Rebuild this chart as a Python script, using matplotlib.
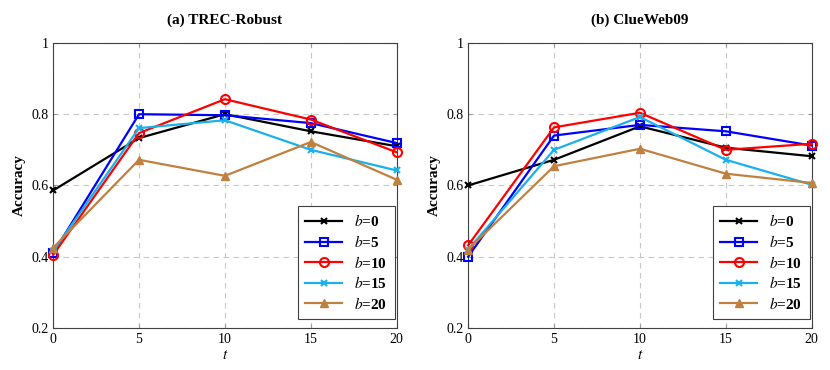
import matplotlib
matplotlib.use("Agg")
import matplotlib.pyplot as plt

plt.rcParams['font.family'] = ['Liberation Serif', 'DejaVu Serif']
plt.rcParams['mathtext.fontset'] = 'stix'

t = [0, 5, 10, 15, 20]
labels = ['0', '5', '10', '15', '20']

# TREC-Robust
robust = {
    '0': [0.586, 0.733, 0.800, 0.752, 0.710],
    '5': [0.410, 0.800, 0.797, 0.775, 0.719],
    '10': [0.405, 0.747, 0.842, 0.785, 0.693],
    '15': [0.415, 0.761, 0.783, 0.700, 0.642],
    '20': [0.425, 0.672, 0.627, 0.722, 0.616],
}
# ClueWeb09
clueweb = {
    '0': [0.600, 0.672, 0.766, 0.706, 0.682],
    '5': [0.400, 0.740, 0.770, 0.752, 0.712],
    '10': [0.432, 0.763, 0.804, 0.700, 0.717],
    '15': [0.420, 0.700, 0.792, 0.672, 0.602],
    '20': [0.420, 0.654, 0.703, 0.633, 0.607],
}

styles = {
    '0': dict(color='black', marker='x', ms=4, mew=1.5, mfc='none'),
    '5': dict(color='#0000ff', marker='s', ms=6, mew=1.5, mfc='none'),
    '10': dict(color='#ff0000', marker='o', ms=6.5, mew=1.5, mfc='none'),
    '15': dict(color='#1ab0ec', marker='x', ms=4, mew=1.5, mfc='none'),
    '20': dict(color='#bf8040', marker='^', ms=6, mew=1, mfc='#bf8040'),
}

fig = plt.figure(figsize=(8.3, 3.7), dpi=100)
ax1 = fig.add_axes([0.064, 0.1135, 0.414, 0.7705])
ax2 = fig.add_axes([0.564, 0.1135, 0.414, 0.7705])

for ax, data, title in [(ax1, robust, '(a) TREC-Robust'), (ax2, clueweb, '(b) ClueWeb09')]:
    for b in labels:
        ax.plot(t, data[b], lw=1.6, label=r'$b$=' + b, clip_on=False, zorder=3, **styles[b])
    ax.set_xlim(0, 20)
    ax.set_ylim(0.2, 1.0)
    ax.set_xticks(t)
    ax.set_yticks([0.2, 0.4, 0.6, 0.8, 1.0])
    ax.set_yticklabels(['0.2', '0.4', '0.6', '0.8', '1'])
    ax.grid(True, ls=(0, (5, 4)), color='#c8c8c8', lw=0.8)
    ax.tick_params(direction='in', top=True, right=True, labelsize=10, length=3, color='#999999')
    for s in ax.spines.values():
        s.set_linewidth(0.8)
        s.set_color('#404040')
    ax.set_xlabel(r'$t$', fontsize=11, labelpad=2)
    ax.set_ylabel('Accuracy', fontsize=11, fontweight='bold')
    ax.set_title(title, fontsize=11, fontweight='bold', pad=14)
    leg = ax.legend(loc='lower right', bbox_to_anchor=(0.995, 0.03), fancybox=False,
                    edgecolor='#404040', framealpha=1,
                    prop={'weight': 'bold', 'size': 11}, handlelength=2.4,
                    borderaxespad=0, labelspacing=0.3, borderpad=0.5)
    leg.set_zorder(5)
    leg.get_frame().set_linewidth(0.8)

fig.savefig('out.png', dpi=100)
